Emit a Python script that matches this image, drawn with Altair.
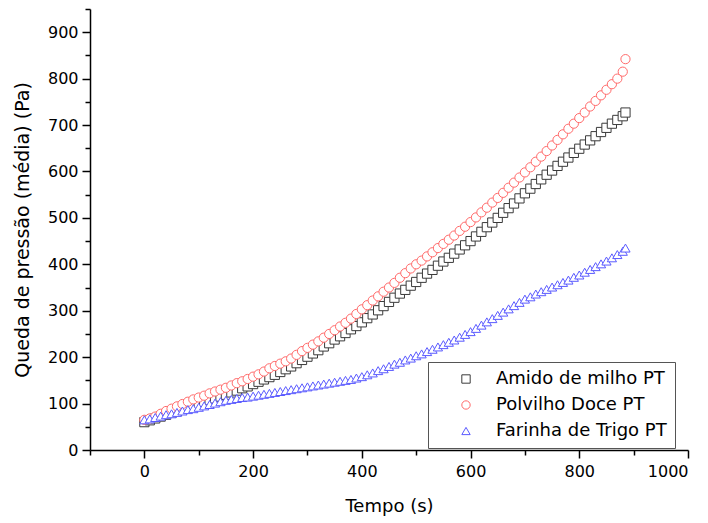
import altair as alt
import pandas as pd

# ---- data ----
tempo = [0, 10, 20, 30, 40, 50, 60, 70, 80, 90,
         100, 110, 120, 130, 140, 150, 160, 170, 180, 190,
         200, 210, 220, 230, 240, 250, 260, 270, 280, 290,
         300, 310, 320, 330, 340, 350, 360, 370, 380, 390,
         400, 410, 420, 430, 440, 450, 460, 470, 480, 490,
         500, 510, 520, 530, 540, 550, 560, 570, 580, 590,
         600, 610, 620, 630, 640, 650, 660, 670, 680, 690,
         700, 710, 720, 730, 740, 750, 760, 770, 780, 790,
         800, 810, 820, 830, 840, 850, 860, 870, 880, 885]

amido = [60, 64, 68, 72, 76, 80, 84, 88, 92, 96,
         99, 103, 107, 111, 115, 119, 124, 128, 133, 137,
         142, 147, 152, 157, 162, 168, 174, 180, 187, 194,
         201, 208, 215, 223, 230, 238, 245, 252, 260, 267,
         275, 284, 292, 301, 310, 319, 328, 337, 345, 354,
         362, 371, 380, 388, 397, 406, 414, 423, 432, 441,
         450, 460, 470, 480, 490, 500, 511, 521, 531, 542,
         553, 563, 573, 583, 593, 602, 612, 621, 630, 640,
         649, 658, 667, 676, 685, 694, 703, 711, 719, 727]

polvilho = [65, 68, 72, 78, 84, 89, 94, 99, 104, 109,
            113, 117, 122, 126, 130, 134, 139, 144, 148, 153,
            158, 163, 169, 176, 181, 186, 191, 197, 205, 213,
            220, 227, 234, 242, 250, 258, 266, 274, 283, 293,
            303, 312, 322, 331, 341, 350, 360, 371, 381, 391,
            400, 408, 417, 426, 435, 444, 453, 462, 472, 481,
            491, 501, 512, 522, 533, 543, 554, 565, 576, 587,
            598, 609, 621, 632, 644, 656, 668, 680, 692, 703,
            715, 727, 740, 752, 764, 776, 788, 800, 815, 842]

farinha = [65, 67, 70, 73, 76, 78, 81, 84, 87, 89,
           92, 95, 98, 101, 104, 107, 109, 111, 113, 114,
           116, 118, 120, 122, 124, 126, 128, 130, 132, 134,
           136, 138, 140, 142, 144, 146, 148, 150, 152, 155,
           158, 162, 166, 171, 175, 180, 185, 189, 194, 198,
           203, 207, 212, 217, 222, 227, 232, 237, 243, 249,
           255, 262, 269, 276, 283, 290, 297, 304, 311, 318,
           325, 330, 336, 341, 346, 351, 356, 361, 366, 372,
           377, 383, 389, 395, 401, 407, 414, 421, 428, 435]

series = ["Amido de milho PT", "Polvilho Doce PT", "Farinha de Trigo PT"]
colors = ["#3a3a3a", "#ff6a6a", "#5a5aff"]
shapes = ["square", "circle", "triangle-up"]

x_major = [0, 200, 400, 600, 800, 1000]
x_minor = [-100, 100, 300, 500, 700, 900]
y_major = [0, 100, 200, 300, 400, 500, 600, 700, 800, 900]
y_minor = [50, 150, 250, 350, 450, 550, 650, 750, 850, 950]

rows = []
for name, vals in zip(series, [amido, polvilho, farinha]):
    for t, v in zip(tempo, vals):
        rows.append({"serie": name, "tempo": t, "queda": v})
df = pd.DataFrame(rows)

FONT = "DejaVu Sans"
xscale = alt.Scale(domain=[-100, 1000], nice=False, zero=False)
yscale = alt.Scale(domain=[0, 950], nice=False, zero=False)

leg = alt.Legend(orient="none", legendX=338, legendY=353, title=None,
                 strokeColor="#555555", fillColor="white", padding=8,
                 symbolOffset=21, labelOffset=21, labelFontSize=18, labelLimit=300,
                 labelFont=FONT, labelColor="black", symbolSize=70, symbolStrokeWidth=1,
                 symbolFillColor="white", rowPadding=8,
                 labelExpr="datum.label + '\u00a0\u00a0'")

points = alt.Chart(df).mark_point(filled=True, fill="white", strokeWidth=1, size=85, opacity=1).encode(
    x=alt.X("tempo:Q", scale=xscale,
            axis=alt.Axis(values=x_major, format="d", title="Tempo (s)", tickSize=8, labelPadding=5,
                          titlePadding=18, titleFontSize=18, labelFontSize=16, orient="bottom")),
    y=alt.Y("queda:Q", scale=yscale,
            axis=alt.Axis(values=y_major, format="d", title="Queda de pressão (média) (Pa)", tickSize=8,
                          labelPadding=4, titlePadding=15, titleFontSize=19, labelFontSize=16,
                          orient="left")),
    stroke=alt.Stroke("serie:N", scale=alt.Scale(domain=series, range=colors), legend=leg),
    shape=alt.Shape("serie:N", scale=alt.Scale(domain=series, range=shapes), legend=leg),
)

minor = alt.Chart(df).mark_point(opacity=0).encode(
    x=alt.X("tempo:Q", scale=xscale,
            axis=alt.Axis(values=x_minor, labels=False, title=None, tickSize=5, domain=False,
                          orient="bottom")),
    y=alt.Y("queda:Q", scale=yscale,
            axis=alt.Axis(values=y_minor, labels=False, title=None, tickSize=5, domain=False,
                          orient="left")),
)

chart = alt.layer(minor, points).resolve_axis(x="independent", y="independent").properties(
    width=598, height=441,
    padding={"left": 90, "top": 9, "right": 20, "bottom": 73},
    autosize=alt.AutoSizeParams(type="none"),
    background="white",
).configure_axis(
    grid=False, domainColor="black", tickColor="black", domainWidth=1.5, tickWidth=1.5,
    labelColor="black", titleColor="black", labelFont=FONT, titleFont=FONT,
    titleFontWeight="normal",
).configure_view(stroke=None)

chart.save("out.html", embed_options={"renderer": "svg", "actions": False})
